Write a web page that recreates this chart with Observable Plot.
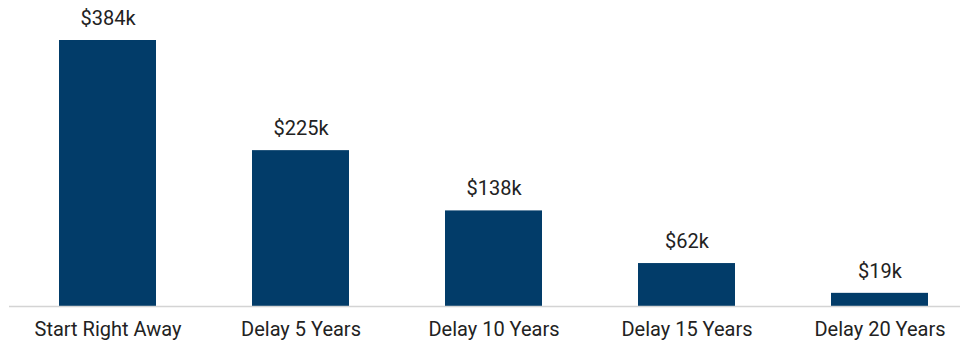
<!DOCTYPE html>
<html>
<head>
<meta charset="utf-8">
<script src="https://cdn.jsdelivr.net/npm/d3@7"></script>
<script src="https://cdn.jsdelivr.net/npm/@observablehq/plot@0.6"></script>
<style>
  html, body { margin: 0; padding: 0; background: #fff; }
  #chart { width: 965px; height: 348px; }
</style>
</head>
<body>
<div id="chart"></div>
<script>
const categories = ["Start Right Away", "Delay 5 Years", "Delay 10 Years", "Delay 15 Years", "Delay 20 Years"];
const values = [384, 225, 138, 62, 19];
const labels = ["$384k", "$225k", "$138k", "$62k", "$19k"];

const data = categories.map((c, i) => ({category: c, value: values[i], label: labels[i]}));

const chart = Plot.plot({
  width: 965,
  height: 348,
  marginTop: 40,
  marginBottom: 42,
  marginLeft: 9,
  marginRight: 5,
  style: {fontFamily: "Roboto, sans-serif", fontSize: "20px", color: "#222", background: "#fff"},
  x: {domain: categories, range: [8.5, 977.5], paddingInner: 0.5, paddingOuter: 0.25, label: null, tickSize: 0, tickPadding: 15},
  y: {domain: [0, 384], axis: null},
  marks: [
    Plot.barY(data, {x: "category", y: "value", fill: "#023c69"}),
    Plot.ruleY([0], {stroke: "#d4d4d4", strokeWidth: 1.5}),
    Plot.text(data, {x: "category", y: "value", text: "label", dy: -22, lineAnchor: "middle", fill: "#222", fontSize: 20})
  ]
});
document.getElementById("chart").appendChild(chart);
</script>
</body>
</html>
